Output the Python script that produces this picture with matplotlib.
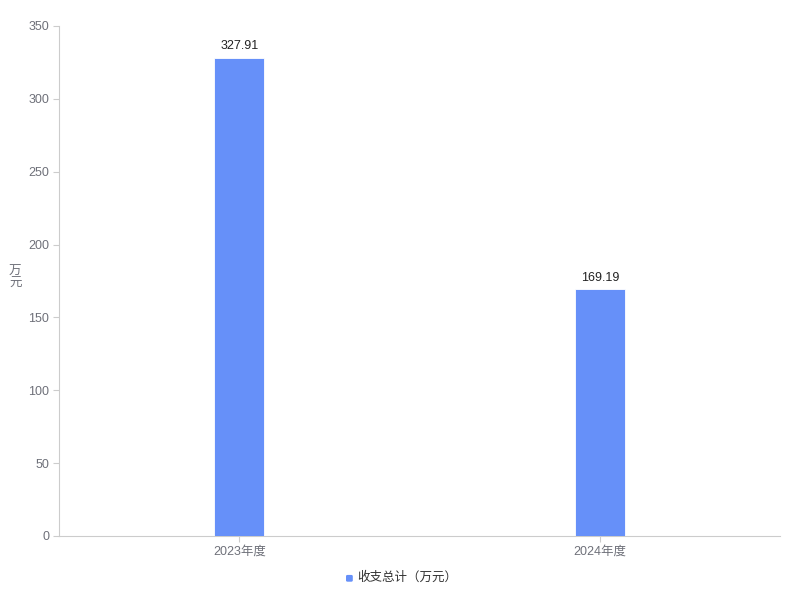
import matplotlib.pyplot as plt
from matplotlib.patches import FancyBboxPatch

plt.rcParams['font.family'] = ['Liberation Sans', 'Noto Sans CJK SC', 'DejaVu Sans']

categories = ['2023年度', '2024年度']
values = [327.91, 169.19]
series_name = '收支总计（万元）'
yticks = [0, 50, 100, 150, 200, 250, 300, 350]

bar_color = '#6690f9'
axis_color = '#cccccc'
label_color = '#6e7079'

fig = plt.figure(figsize=(8, 6), dpi=100)
ax = fig.add_axes([0.07375, 0.1067, 0.90125, 0.85])

x = list(range(len(categories)))
ax.bar(x, values, width=0.139, color=bar_color, edgecolor='white', linewidth=0.6, zorder=3)
for xi, v in zip(x, values):
    ax.text(xi, v + 4, f'{v:.2f}', ha='center', va='bottom', fontsize=9, color='#222222')

ax.set_xlim(-0.5, 1.5)
ax.set_ylim(0, 350)
ax.set_yticks(yticks)
ax.set_xticks(x)
ax.set_xticklabels(categories)

for s in ['top', 'right']:
    ax.spines[s].set_visible(False)
ax.spines['left'].set_color(axis_color)
ax.spines['bottom'].set_color(axis_color)
ax.tick_params(axis='both', colors=axis_color, labelcolor=label_color, labelsize=9, length=4)
ax.tick_params(axis='y', pad=3)
ax.tick_params(axis='x', pad=3)

fig.text(0.019, 0.537, '万\n元', ha='center', va='center', fontsize=9, color=label_color, linespacing=1.0)

# legend
fig.patches.append(FancyBboxPatch((0.4325, 0.0305), 0.0085, 0.0113, boxstyle='round,pad=0,rounding_size=0.002',
                                  transform=fig.transFigure, facecolor=bar_color, edgecolor='none'))
fig.text(0.447, 0.037, series_name, ha='left', va='center', fontsize=9, color='#333333')

fig.savefig('out.png')
